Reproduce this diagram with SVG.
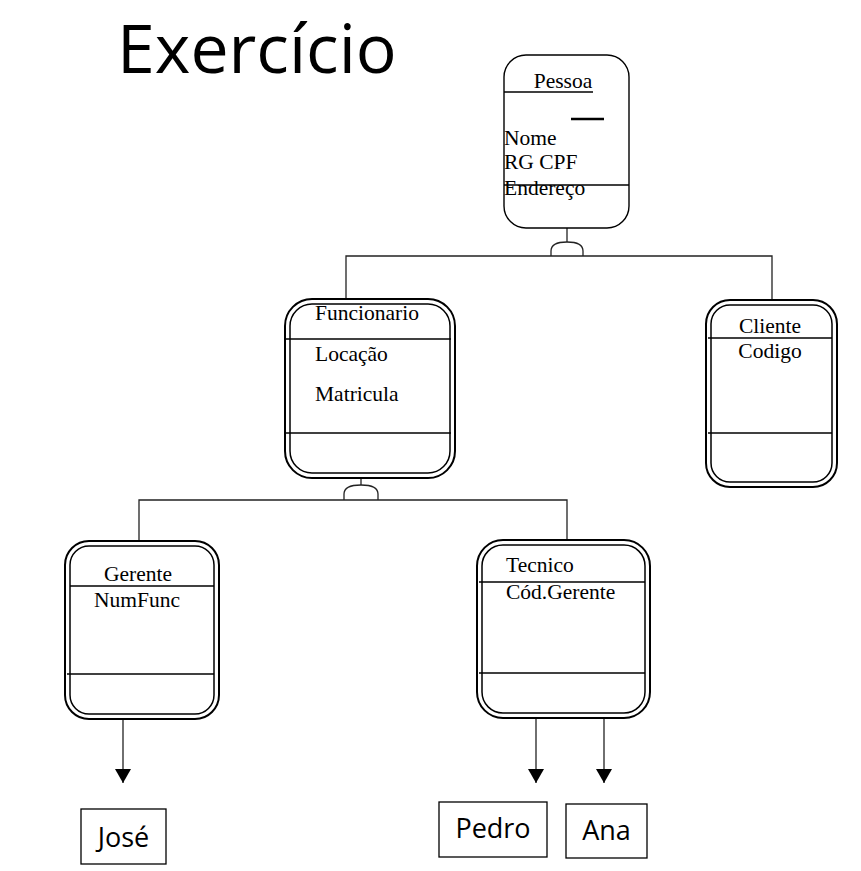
<svg xmlns="http://www.w3.org/2000/svg" width="861" height="871" viewBox="0 0 861 871">
<style>
.t{font-family:"Liberation Serif","Times New Roman",serif;font-size:21.5px;fill:#000}
.s{font-family:"Open Sans","Noto Sans",sans-serif;fill:#000}
.o{fill:#fff;stroke:#000;stroke-width:2}
.i{fill:none;stroke:#000;stroke-width:1.5}
.ln{stroke:#000;stroke-width:1.3;fill:none}
.c{stroke:#222;stroke-width:1.3;fill:none}
.b{fill:#fff;stroke:#000;stroke-width:1.3}
</style>
<defs>
<marker id="ah" viewBox="0 0 14 16" refX="14" refY="8" markerWidth="14" markerHeight="16" markerUnits="userSpaceOnUse" orient="auto">
<path d="M0,0 L14,8 L0,16 Z" fill="#000"/>
</marker>
</defs>
<rect width="861" height="871" fill="#fff"/>
<text class="s" x="117" y="73" font-size="68">Exercício</text>

<g id="connectors">
<path class="c" d="M567,228 V242"/>
<path class="c" d="M551,256 V251 Q551,242 567,242 Q583,242 583,251 V256"/>
<path class="c" d="M346,299 V256 H772 V300"/>
<path class="c" d="M361,478 V485"/>
<path class="c" d="M344,500 V494 Q344,485 361,485 Q378,485 378,494 V500"/>
<path class="c" d="M139,541 V500 H567 V540"/>
<path class="c" d="M123,719 V783" marker-end="url(#ah)"/>
<path class="c" d="M536,718 V783" marker-end="url(#ah)"/>
<path class="c" d="M604,718 V783" marker-end="url(#ah)"/>
</g>

<g id="pessoa">
<rect x="504" y="55" width="125" height="173" rx="22" fill="#fff" stroke="#000" stroke-width="1.4"/>
<line class="ln" x1="504" y1="92" x2="593" y2="92"/>
<text class="t" x="563" y="88" text-anchor="middle">Pessoa</text>
<line x1="571" y1="119" x2="604" y2="119" stroke="#000" stroke-width="2.5"/>
<text class="t" x="504" y="145">Nome</text>
<text class="t" x="504" y="169">RG CPF</text>
<line class="ln" x1="504" y1="185" x2="629" y2="185"/>
<text class="t" x="504" y="195">Endereço</text>
</g>

<g id="funcionario">
<rect class="o" x="285" y="299" width="170" height="179" rx="27"/>
<rect class="i" x="290" y="304" width="160" height="169" rx="22"/>
<line class="ln" x1="285" y1="339" x2="451" y2="339"/>
<line class="ln" x1="285" y1="433" x2="451" y2="433"/>
<text class="t" x="315" y="320">Funcionario</text>
<text class="t" x="315" y="361">Locação</text>
<text class="t" x="315" y="401">Matricula</text>
</g>

<g id="cliente">
<rect class="o" x="706" y="300" width="131" height="187" rx="24"/>
<rect class="i" x="711" y="305" width="121" height="177" rx="19"/>
<line class="ln" x1="708" y1="338" x2="832" y2="338"/>
<line class="ln" x1="708" y1="433" x2="832" y2="433"/>
<text class="t" x="770" y="333" text-anchor="middle">Cliente</text>
<text class="t" x="770" y="358" text-anchor="middle">Codigo</text>
</g>

<g id="gerente">
<rect class="o" x="65" y="541" width="154" height="178" rx="24"/>
<rect class="i" x="70" y="546" width="144" height="168" rx="19"/>
<line class="ln" x1="70" y1="586" x2="214" y2="586"/>
<line class="ln" x1="67" y1="674" x2="214" y2="674"/>
<text class="t" x="138" y="581" text-anchor="middle">Gerente</text>
<text class="t" x="137" y="607" text-anchor="middle">NumFunc</text>
</g>

<g id="tecnico">
<rect class="o" x="477" y="540" width="173" height="178" rx="26"/>
<rect class="i" x="482" y="545" width="163" height="168" rx="21"/>
<line class="ln" x1="479" y1="582" x2="645" y2="582"/>
<line class="ln" x1="479" y1="673" x2="645" y2="673"/>
<text class="t" x="506" y="572">Tecnico</text>
<text class="t" x="506" y="599">Cód.Gerente</text>
</g>

<g id="jose">
<rect class="b" x="81" y="809" width="85" height="55"/>
<text class="s" x="123.5" y="847" font-size="27" text-anchor="middle">José</text>
</g>

<g id="pedro">
<rect class="b" x="439" y="802" width="108" height="55"/>
<text class="s" x="493" y="838" font-size="27" text-anchor="middle">Pedro</text>
</g>

<g id="ana">
<rect class="b" x="566" y="804" width="81" height="54"/>
<text class="s" x="606.5" y="840" font-size="27" text-anchor="middle">Ana</text>
</g>
</svg>
